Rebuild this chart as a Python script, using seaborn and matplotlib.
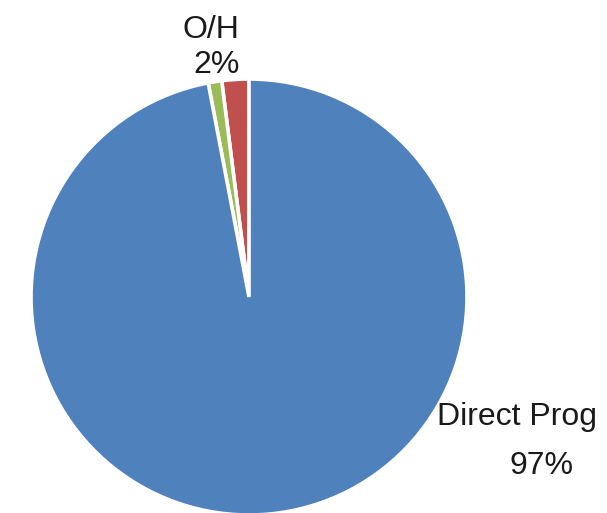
import matplotlib
matplotlib.use("Agg")
import matplotlib.pyplot as plt
import seaborn as sns

# Cost breakdown
categories = ["O/H", "Other", "Direct Prog"]
values = [2, 1, 97]
colors = ["#C0504D", "#9BBB59", "#4F81BD"]

sns.set_theme(style="white")
plt.rcParams["font.family"] = ["Liberation Sans", "DejaVu Sans"]

fig = plt.figure(figsize=(6.07, 5.13), dpi=100)
ax = fig.add_axes([0, 0, 1, 1])

ax.pie(values, colors=colors, startangle=90, counterclock=True,
       radius=1.0, center=(0, 0),
       wedgeprops=dict(edgecolor="white", linewidth=2.6))

total = sum(values)
pct = {c: f"{round(v / total * 100)}%" for c, v in zip(categories, values)}

# label placement (name line, percent line)
txt = dict(va="baseline", fontsize=23, color="#1a1a1a")
ax.text(-0.174, 1.188, "O/H", ha="center", **txt)
ax.text(-0.147, 1.028, pct["O/H"], ha="center", **txt)
ax.text(0.862, -0.587, "Direct Prog", ha="left", **txt)
ax.text(1.344, -0.812, pct["Direct Prog"], ha="center", **txt)

ax.set_xlim(-249 / 218, (607 - 249) / 218)
ax.set_ylim(-216 / 218, 297 / 218)
ax.set_aspect("auto")
ax.axis("off")

fig.savefig("out.png", dpi=100)
